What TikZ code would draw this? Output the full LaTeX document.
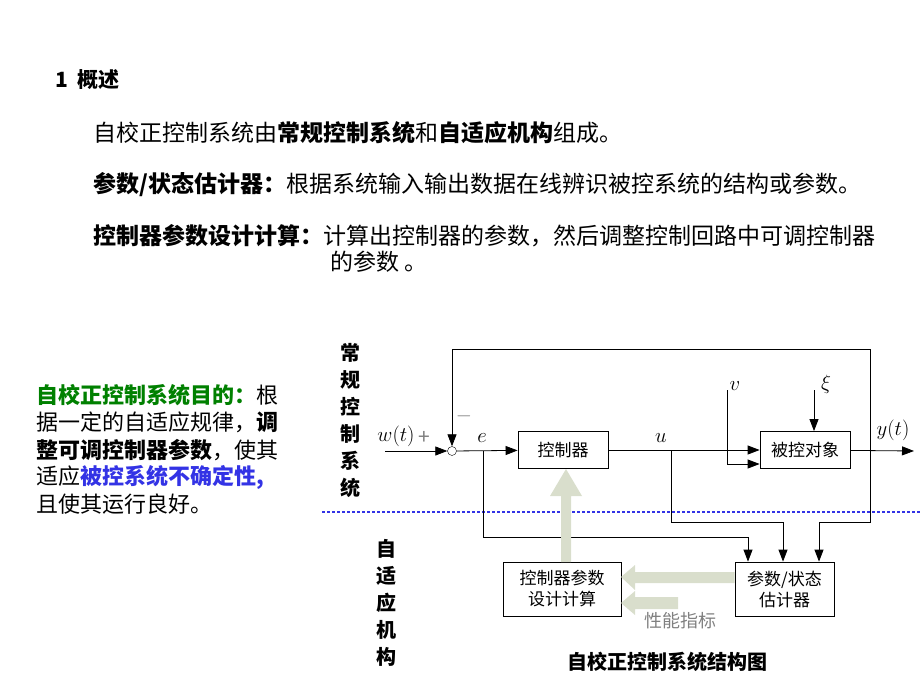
\documentclass[tikz,border=0pt]{standalone}
\usepackage{fontspec}
\setmainfont{Noto Sans CJK SC}
\usetikzlibrary{arrows.meta}
\definecolor{paleg}{rgb}{0.85,0.87,0.80}
\definecolor{tgreen}{rgb}{0.0,0.5,0.0}
\definecolor{tblue}{rgb}{0.2,0.2,0.9}
\tikzset{
  blk/.style = {draw, thick, inner sep=0pt, font=\fontsize{17}{21}\selectfont},
  sig/.style = {thick, -{Triangle[length=12pt,width=9pt]}},
  txt/.style = {anchor=west, inner sep=0pt, font=\fontsize{23}{26}\selectfont},
  lft/.style = {anchor=west, inner sep=0pt, font=\fontsize{22}{24}\selectfont},
  lbl/.style = {font=\fontsize{21}{24}\selectfont},
}
\begin{document}
\begin{tikzpicture}[x=1pt, y=-1pt]
\useasboundingbox (0,0) rectangle (920,690);
% header text
\node[txt, font=\fontsize{21}{24}\selectfont\bfseries] (title) at (55,80) {1\ \ 概述};
\node[txt] (l1) at (93,133) {自校正控制系统由\textbf{常规控制系统}和\textbf{自适应机构}组成。};
\node[txt] (l2) at (93,185) {\textbf{参数/状态估计器：}根据系统输入输出数据在线辨识被控系统的结构或参数。};
\node[txt] (l3) at (93,236) {\textbf{控制器参数设计计算：}计算出控制器的参数，然后调整控制回路中可调控制器};
\node[txt] (l4) at (330,262) {的参数 。};
% left text
\node[lft] (g1) at (36,395) {\textcolor{tgreen}{\textbf{自校正控制系统目的：}}根};
\node[lft] (g2) at (36,422) {据一定的自适应规律，\textbf{调}};
\node[lft] (g3) at (36,450) {\textbf{整可调控制器参数}，使其};
\node[lft] (g4) at (36,477) {适应\textcolor{tblue}{\textbf{被控系统不确定性,}}};
\node[lft] (g5) at (36,504) {且使其运行良好。};
% vertical labels
\node[font=\fontsize{20}{27}\selectfont\bfseries, align=center] (conv) at (350,420) {常\\规\\控\\制\\系\\统};
\node[font=\fontsize{20}{27}\selectfont\bfseries, align=center] (adap) at (386,603) {自\\适\\应\\机\\构};
% divider
\draw[tblue, line width=2.5pt, dash pattern=on 2.5pt off 2.5pt] (322,512) -- (920,512);
% blocks
\node[circle, draw, inner sep=0pt, minimum size=9pt] (sum) at (452,451) {};
\node[blk, minimum width=90pt, minimum height=37pt] (ctrl) at (563,450) {控制器};
\node[blk, minimum width=90pt, minimum height=37pt] (plant) at (805,450) {被控对象};
\node[blk, minimum width=99pt, minimum height=54pt, align=center] (est) at (784.5,589) {参数/状态\\估计器};
\node[blk, minimum width=118pt, minimum height=54pt, align=center] (des) at (562,589) {控制器参数\\设计计算};
% points
\coordinate (in) at (385,451);
\coordinate (out) at (914,451);
\coordinate (vtop) at (727,390);
\coordinate (xtop) at (814,390);
\node[lbl] (wl) at (396,436) {$w(t)$};
\node[lbl, gray] (pl) at (424,438) {+};
\node[lbl, gray] (mi) at (464,416) {$-$};
\node[lbl] (el) at (482,438) {$e$};
\node[lbl] (ul) at (661,438) {$u$};
\node[lbl] (vl) at (735,386) {$v$};
\node[lbl] (xl) at (826,384) {$\xi$};
\node[lbl] (yl) at (893,430) {$y(t)$};
% signals
\draw[sig] (in) -- (sum);
\draw[sig] (sum) -- (ctrl);
\draw[sig] (ctrl) -- (plant);
\draw[sig] (plant) -- (out);
\draw[sig] (vtop) |- ([yshift=-14pt]plant.west);
\draw[sig] (xtop) -- (plant.north -| xtop);
\draw[sig] (870,451) |- (452,349) -- (sum);
\draw[sig] (483,451) |- (748,537) -- (est.north -| 748,0);
\draw[sig] (671,451) |- (783,522) -- (est.north -| 783,0);
\draw[sig] (870,451) |- (819,522) -- (est.north -| 819,0);
% adaptation arrows
\fill[paleg] (561,562) -- (561,496) -- (550,496) -- (566,469) -- (582,496) -- (571,496) -- (571,562) -- cycle;
\fill[paleg] (est.west |- 0,572) -- (635,572) -- (635,565) -- (621,577) -- (635,590) -- (635,583) -- (est.west |- 0,583) -- cycle;
\fill[paleg] (678,597) -- (635,597) -- (635,591) -- (621,603) -- (635,615) -- (635,609) -- (678,609) -- cycle;
\node[gray, font=\fontsize{18}{20}\selectfont] (perf) at (680,621) {性能指标};
\node[font=\fontsize{20}{22}\selectfont\bfseries] (cap) at (667,662) {自校正控制系统结构图};
\end{tikzpicture}
\end{document}
